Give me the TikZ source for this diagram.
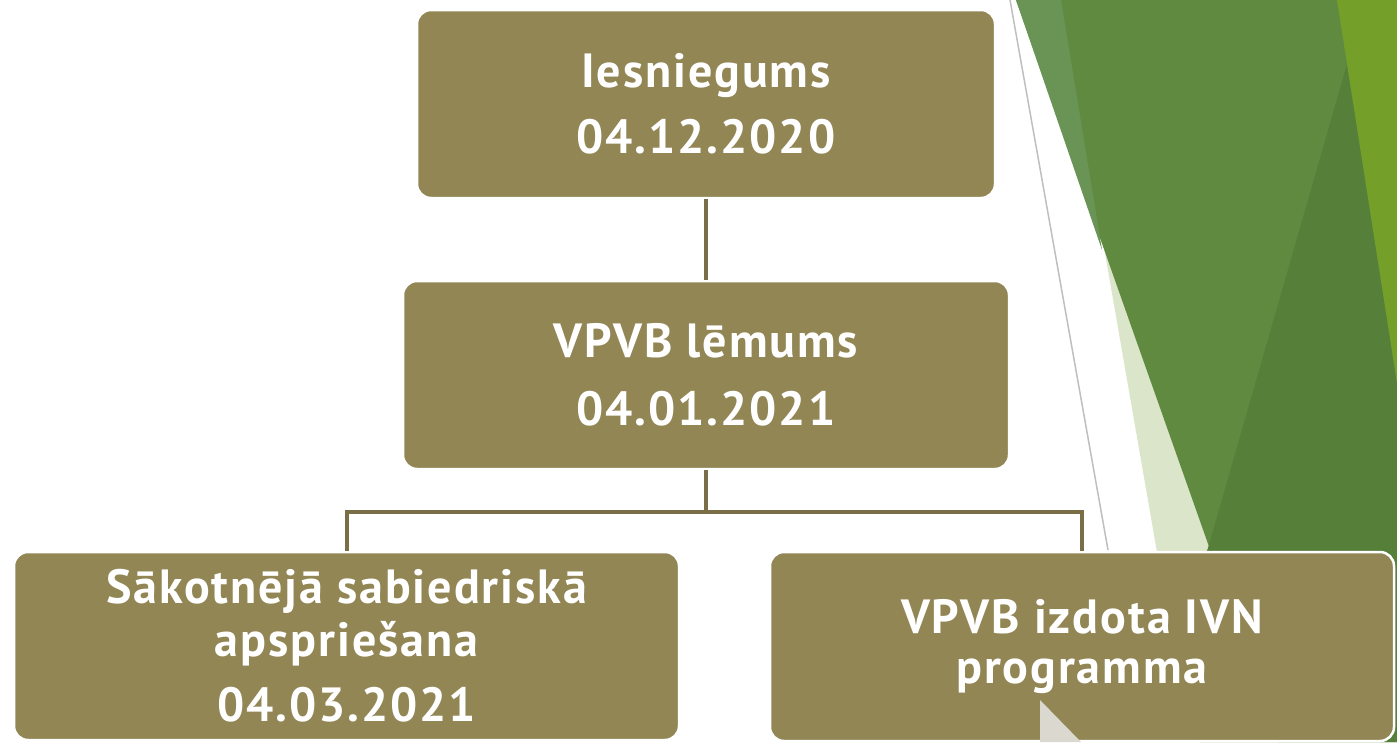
\documentclass[tikz,border=0pt]{standalone}
\usepackage{fontspec}
\newfontfamily\boxfont{PT Sans}[LetterSpace=4.0]
\definecolor{boxolive}{HTML}{928655}
\definecolor{connol}{HTML}{7A6E46}
\definecolor{palegreen}{HTML}{DBE5C9}
\definecolor{maingreen}{HTML}{5F8A40}
\definecolor{bandgreen}{HTML}{6A9455}
\definecolor{darkgreen}{HTML}{56803A}
\definecolor{limegreen}{HTML}{74A02A}
\definecolor{thingrey}{HTML}{BFBFBF}
\definecolor{cornergrey}{HTML}{DAD8CF}
\begin{document}
\begin{tikzpicture}[x=1pt,y=-1pt,
  stepbox/.style={draw=white, line width=2.5pt, fill=boxolive, rounded corners=14pt,
    text=white, font=\boxfont\bfseries\fontsize{48}{53}\selectfont, align=center, inner sep=0pt},
  conn/.style={draw=connol, line width=4pt}]
\useasboundingbox (0,0) rectangle (1397,742);
\fill[white] (0,0) rectangle (1397,742);
\begin{scope}
\clip (0,0) rectangle (1397,742);
\fill[palegreen] (1061,0) -- (1397,0) -- (1397,742) -- (1190,742) -- cycle;
\fill[maingreen] (1016,0) -- (1397,0) -- (1397,742) -- (1278,742) -- cycle;
\fill[bandgreen] (1016,0) -- (1061,0) -- (1102,250) -- cycle;
\fill[darkgreen] (1347,64) -- (1397,383) -- (1397,742) -- (1200,742) -- (1200,570) -- (1208,548) -- cycle;
\fill[limegreen] (1337,0) -- (1397,0) -- (1397,383) -- cycle;
\draw[thingrey, line width=1.5pt] (1010,0) -- (1108,550);
\end{scope}
\node[stepbox, minimum width=578pt, minimum height=188pt] (b1) at (706,104) {Iesniegums\\[13pt]04.12.2020};
\node[stepbox, minimum width=606pt, minimum height=188pt] (b2) at (706,375) {VPVB lēmums\\[15pt]04.01.2021};
\node[stepbox, minimum width=665pt, minimum height=188pt] (b3) at (346.5,646) {Sākotnējā sabiedriskā\\apspriešana\\[12pt]04.03.2021};
\node[stepbox, minimum width=624pt, minimum height=189pt, font=\boxfont\bfseries\fontsize{48}{50}\selectfont] (b4) at (1082,646.5) {VPVB izdota IVN\\programma};
\fill[cornergrey] (1040,700) -- (1040,742) -- (1081,742) -- cycle;
\coordinate (mid) at (706,512);
\draw[conn] (b1.south) -- (b2.north);
\draw[conn] (b2.south) -- (mid);
\draw[conn] (b3.north) -- (b3.north |- mid) -- (b4.north |- mid) -- (b4.north);
\end{tikzpicture}
\end{document}
